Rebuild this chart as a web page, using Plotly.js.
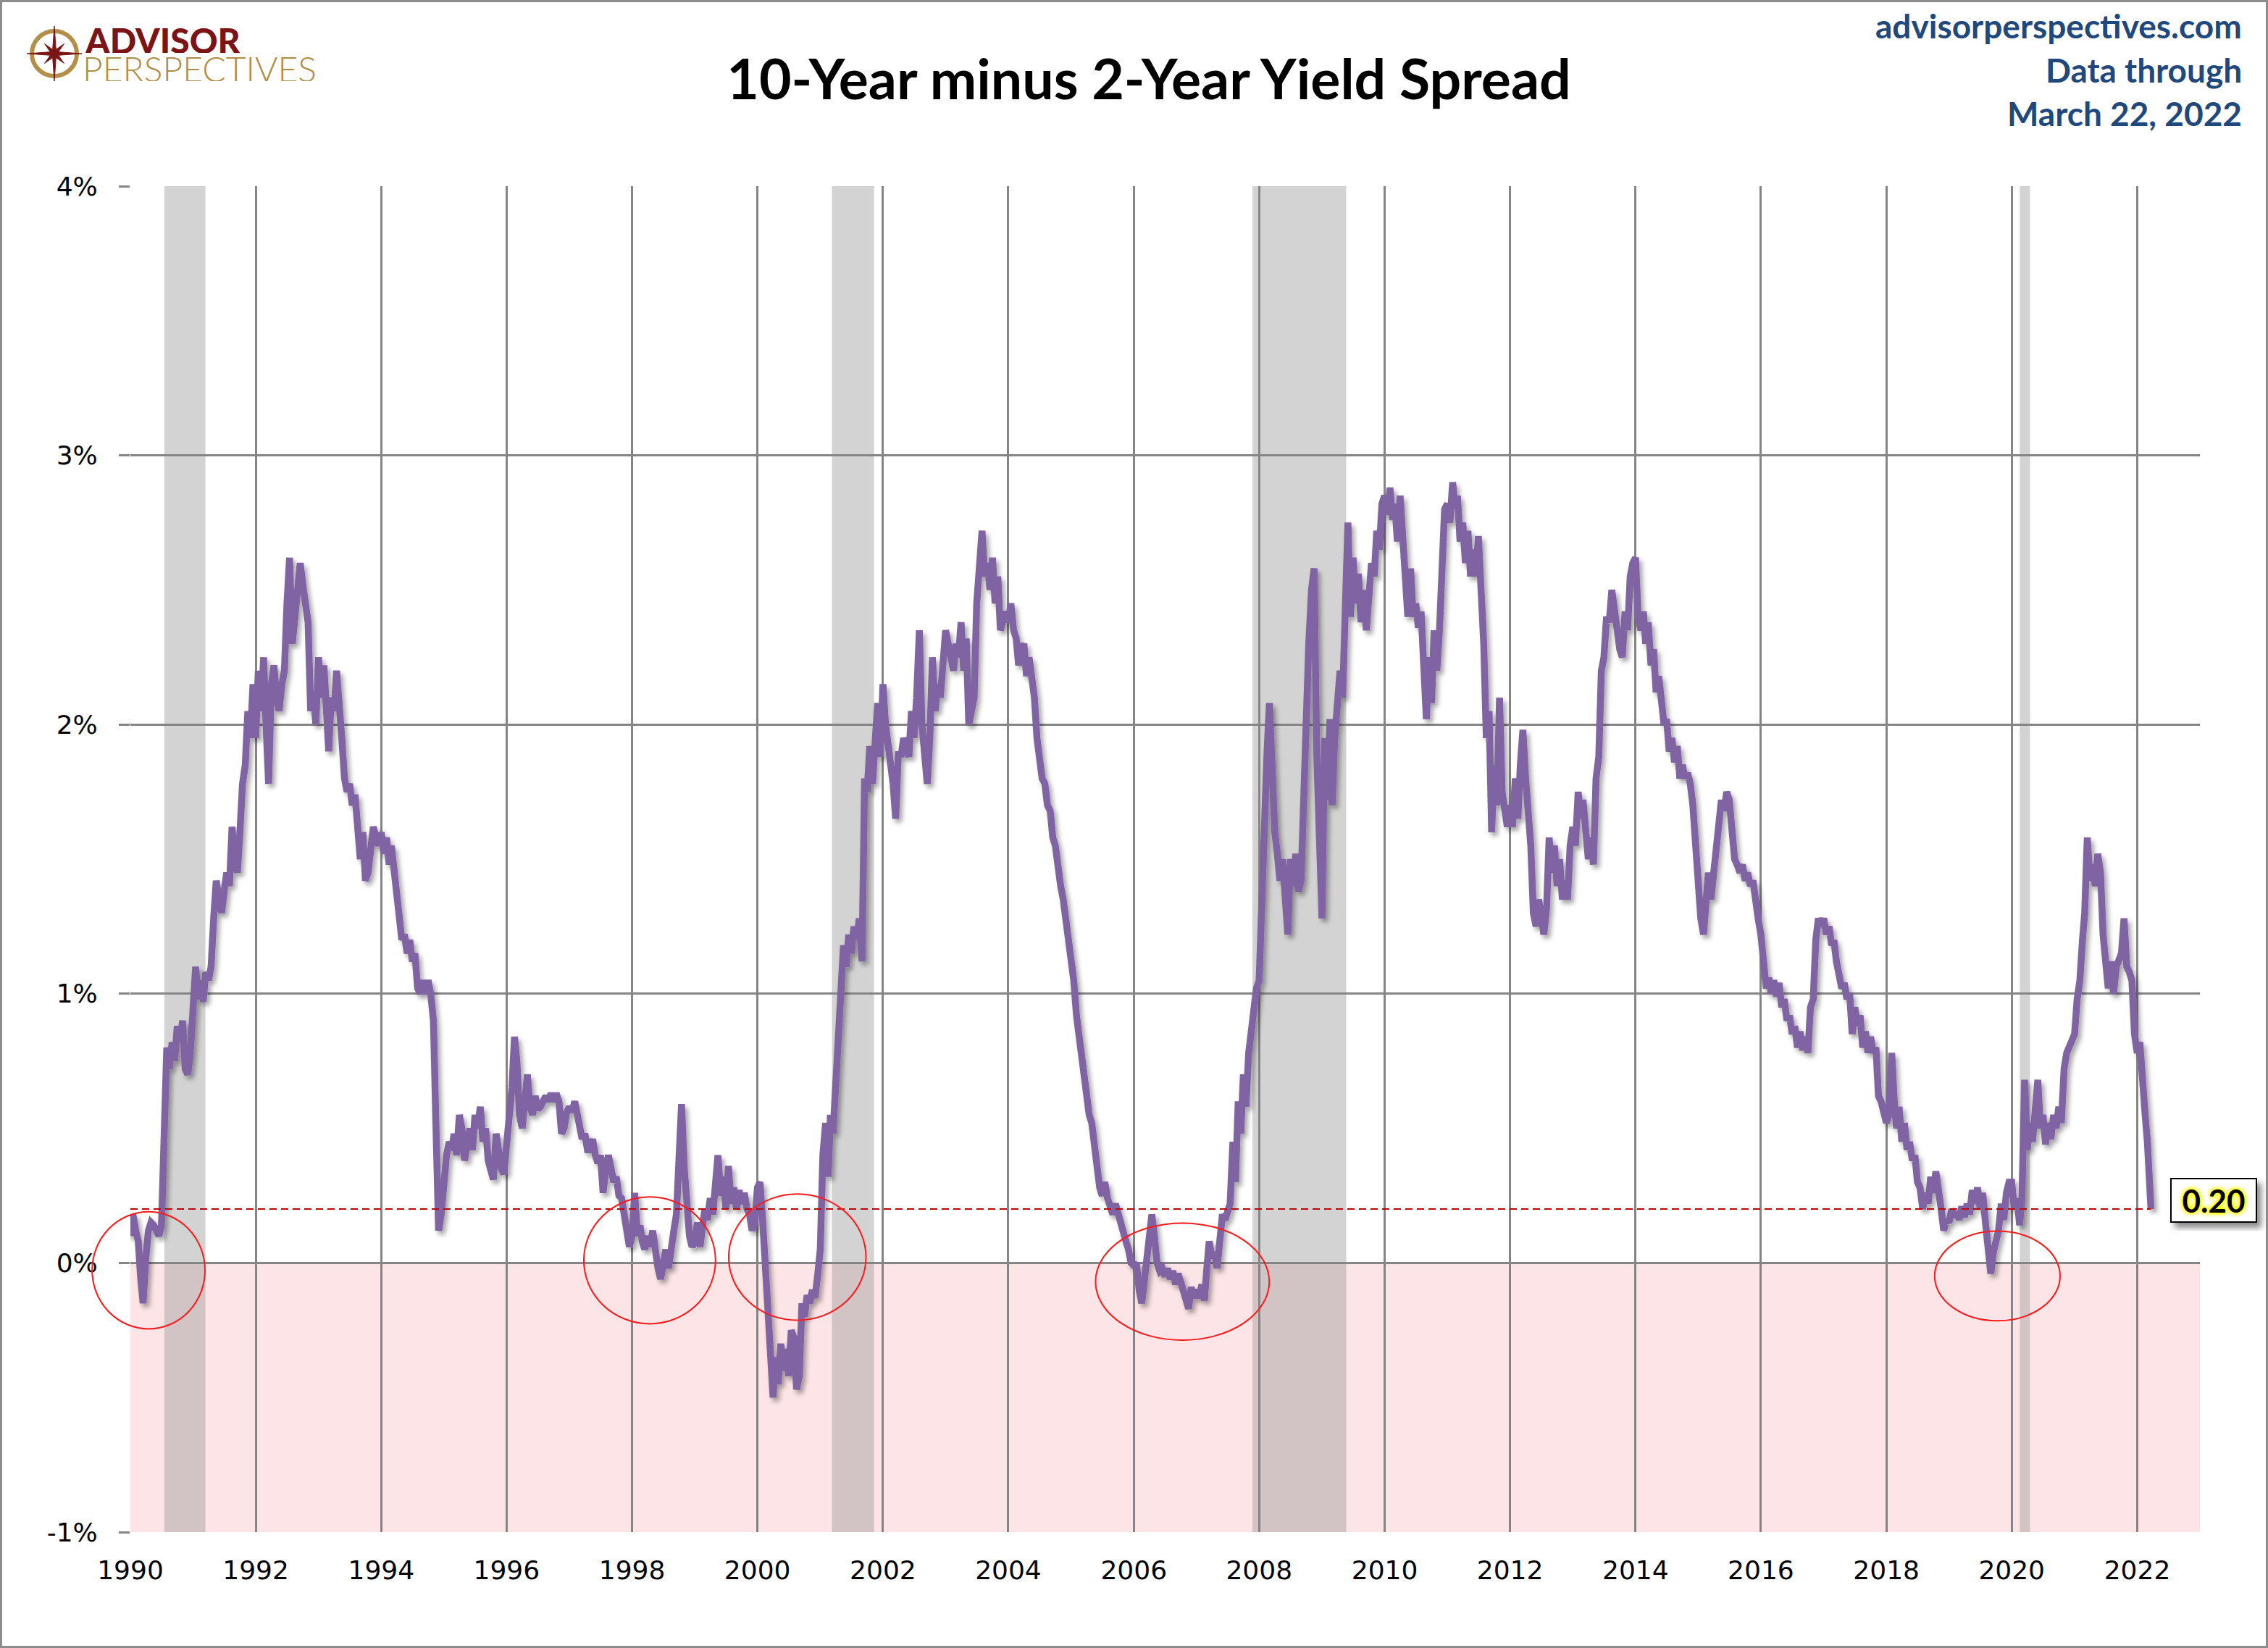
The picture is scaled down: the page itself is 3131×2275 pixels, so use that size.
<!DOCTYPE html>
<html>
<head>
<meta charset="utf-8">
<script src="https://cdn.plot.ly/plotly-3.0.1.min.js"></script>
<style>
  html, body { margin: 0; padding: 0; background: #fff; }
  #chart { width: 3131px; height: 2275px; }
</style>
</head>
<body>
<div id="chart"></div>
<script>
// 10-year minus 2-year Treasury spread (%)
// at the 1st and 16th of each month.
const y1990 = [0.10, 0.18, 0.12, 0.08, -0.05, -0.15, 0.02, 0.12, 0.15, 0.14, 0.12, 0.10, 0.14, 0.40, 0.80, 0.72, 0.82, 0.75, 0.88, 0.82, 0.90, 0.72, 0.70, 0.78];
const y1991 = [0.95, 1.10, 0.98, 1.05, 0.97, 1.08, 1.05, 1.10, 1.28, 1.42, 1.35, 1.30, 1.38, 1.45, 1.40, 1.62, 1.50, 1.45, 1.60, 1.78, 1.85, 2.05, 1.95, 2.15];
const y1992 = [1.95, 2.20, 2.05, 2.25, 2.00, 1.78, 2.15, 2.22, 2.10, 2.05, 2.15, 2.20, 2.45, 2.62, 2.30, 2.40, 2.48, 2.60, 2.52, 2.45, 2.38, 2.05, 2.12, 2.00];
const y1993 = [2.25, 2.10, 2.22, 2.05, 1.90, 2.10, 2.05, 2.20, 2.10, 1.95, 1.80, 1.75, 1.78, 1.70, 1.74, 1.62, 1.50, 1.60, 1.42, 1.45, 1.55, 1.62, 1.58, 1.55];
const y1994 = [1.60, 1.52, 1.58, 1.48, 1.55, 1.45, 1.40, 1.25, 1.20, 1.22, 1.15, 1.20, 1.12, 1.15, 1.02, 1.00, 1.05, 1.00, 1.05, 1.00, 0.90, 0.50, 0.12, 0.18];
const y1995 = [0.30, 0.40, 0.45, 0.42, 0.48, 0.40, 0.55, 0.50, 0.38, 0.45, 0.50, 0.42, 0.55, 0.50, 0.58, 0.45, 0.50, 0.38, 0.35, 0.31, 0.48, 0.40, 0.35, 0.33];
const y1996 = [0.45, 0.58, 0.65, 0.84, 0.75, 0.55, 0.50, 0.60, 0.70, 0.58, 0.55, 0.62, 0.57, 0.58, 0.60, 0.62, 0.60, 0.63, 0.60, 0.63, 0.60, 0.48, 0.50, 0.56];
const y1997 = [0.58, 0.56, 0.60, 0.55, 0.50, 0.46, 0.48, 0.42, 0.42, 0.46, 0.40, 0.37, 0.40, 0.26, 0.35, 0.40, 0.35, 0.30, 0.32, 0.25, 0.24, 0.18, 0.10, 0.06];
const y1998 = [0.10, 0.26, 0.10, 0.14, 0.08, 0.05, 0.10, 0.06, 0.12, 0.04, -0.02, -0.06, 0.00, 0.05, -0.02, 0.07, 0.12, 0.18, 0.35, 0.59, 0.35, 0.22, 0.10, 0.06];
const y1999 = [0.08, 0.15, 0.06, 0.14, 0.20, 0.16, 0.24, 0.18, 0.30, 0.40, 0.25, 0.32, 0.20, 0.36, 0.22, 0.28, 0.20, 0.27, 0.22, 0.26, 0.20, 0.18, 0.12, 0.15];
const y2000 = [0.28, 0.30, 0.15, 0.00, -0.18, -0.30, -0.50, -0.35, -0.45, -0.30, -0.40, -0.32, -0.42, -0.25, -0.28, -0.47, -0.42, -0.15, -0.20, -0.12, -0.15, -0.10, -0.13, -0.05];
const y2001 = [0.05, 0.40, 0.52, 0.32, 0.55, 0.48, 0.68, 0.88, 0.95, 1.18, 1.10, 1.22, 1.15, 1.25, 1.20, 1.28, 1.12, 1.80, 1.75, 1.92, 1.78, 1.95, 2.08, 1.88];
const y2002 = [2.15, 2.00, 1.92, 1.85, 1.78, 1.65, 1.90, 1.88, 1.95, 1.92, 1.88, 2.05, 1.95, 2.10, 2.35, 2.00, 1.90, 1.78, 1.95, 2.25, 2.05, 2.15, 2.10, 2.20];
const y2003 = [2.35, 2.30, 2.25, 2.20, 2.30, 2.25, 2.38, 2.20, 2.32, 2.00, 2.05, 2.10, 2.45, 2.60, 2.72, 2.55, 2.60, 2.50, 2.62, 2.45, 2.55, 2.35, 2.38, 2.42];
const y2004 = [2.38, 2.45, 2.35, 2.32, 2.22, 2.28, 2.30, 2.18, 2.25, 2.18, 2.10, 1.95, 1.88, 1.80, 1.78, 1.70, 1.68, 1.58, 1.55, 1.45, 1.40, 1.35, 1.28, 1.18];
const y2005 = [1.15, 1.05, 0.92, 0.85, 0.75, 0.72, 0.60, 0.55, 0.52, 0.42, 0.32, 0.28, 0.25, 0.30, 0.24, 0.20, 0.18, 0.22, 0.18, 0.15, 0.12, 0.08, 0.05, 0.00];
const y2006 = [-0.01, 0.00, -0.10, -0.15, -0.08, 0.02, 0.08, 0.18, 0.10, 0.00, -0.03, -0.02, -0.05, -0.02, -0.06, -0.03, -0.08, -0.04, -0.07, -0.10, -0.12, -0.17, -0.09, -0.13];
const y2007 = [-0.10, -0.13, -0.08, -0.14, -0.03, 0.08, 0.02, 0.04, -0.02, 0.10, 0.18, 0.16, 0.20, 0.22, 0.45, 0.30, 0.60, 0.48, 0.70, 0.58, 0.78, 0.88, 0.95, 1.02];
const y2008 = [1.05, 1.40, 1.70, 1.90, 2.08, 1.75, 1.60, 1.52, 1.42, 1.50, 1.35, 1.22, 1.50, 1.40, 1.52, 1.38, 1.42, 1.75, 2.00, 2.30, 2.50, 2.58, 1.90, 1.50];
const y2009 = [1.28, 1.95, 1.72, 2.02, 1.70, 1.95, 2.05, 2.20, 2.10, 2.45, 2.75, 2.40, 2.62, 2.45, 2.56, 2.38, 2.50, 2.35, 2.45, 2.60, 2.55, 2.72, 2.65, 2.82];
const y2010 = [2.85, 2.78, 2.88, 2.76, 2.82, 2.68, 2.85, 2.70, 2.55, 2.40, 2.58, 2.40, 2.45, 2.36, 2.42, 2.20, 2.02, 2.25, 2.08, 2.35, 2.20, 2.35, 2.65, 2.80];
const y2011 = [2.82, 2.75, 2.90, 2.80, 2.85, 2.68, 2.75, 2.60, 2.72, 2.55, 2.65, 2.55, 2.70, 2.52, 2.30, 1.95, 2.05, 1.60, 1.85, 1.70, 2.10, 1.75, 1.68, 1.62];
const y2012 = [1.70, 1.62, 1.80, 1.65, 1.85, 1.98, 1.80, 1.70, 1.55, 1.30, 1.25, 1.35, 1.28, 1.22, 1.32, 1.58, 1.45, 1.55, 1.40, 1.50, 1.35, 1.42, 1.35, 1.55];
const y2013 = [1.62, 1.55, 1.75, 1.65, 1.72, 1.62, 1.50, 1.58, 1.48, 1.80, 1.88, 2.20, 2.25, 2.40, 2.38, 2.50, 2.42, 2.35, 2.28, 2.25, 2.42, 2.35, 2.55, 2.60];
const y2014 = [2.62, 2.40, 2.35, 2.42, 2.30, 2.38, 2.22, 2.28, 2.12, 2.18, 2.05, 2.00, 2.02, 1.90, 1.95, 1.86, 1.92, 1.80, 1.85, 1.80, 1.82, 1.78, 1.70, 1.55];
const y2015 = [1.42, 1.28, 1.22, 1.38, 1.45, 1.35, 1.45, 1.55, 1.60, 1.72, 1.68, 1.75, 1.72, 1.62, 1.50, 1.48, 1.45, 1.48, 1.42, 1.45, 1.40, 1.42, 1.32, 1.28];
const y2016 = [1.22, 1.10, 1.02, 1.06, 1.00, 1.05, 0.99, 1.04, 0.95, 0.98, 0.90, 0.92, 0.85, 0.88, 0.80, 0.86, 0.79, 0.84, 0.78, 0.95, 0.98, 1.20, 1.28, 1.25];
const y2017 = [1.28, 1.22, 1.25, 1.18, 1.20, 1.12, 1.08, 1.02, 1.04, 0.98, 1.00, 0.85, 0.95, 0.88, 0.92, 0.80, 0.86, 0.78, 0.84, 0.78, 0.80, 0.62, 0.60, 0.55];
const y2018 = [0.52, 0.55, 0.78, 0.60, 0.50, 0.58, 0.45, 0.52, 0.42, 0.45, 0.38, 0.40, 0.30, 0.28, 0.20, 0.26, 0.22, 0.32, 0.26, 0.34, 0.28, 0.20, 0.12, 0.16];
const y2019 = [0.15, 0.20, 0.17, 0.19, 0.16, 0.21, 0.17, 0.22, 0.18, 0.27, 0.22, 0.28, 0.20, 0.26, 0.15, 0.02, -0.04, 0.04, 0.08, 0.12, 0.22, 0.16, 0.26, 0.30];
const y2020 = [0.30, 0.20, 0.24, 0.14, 0.25, 0.68, 0.42, 0.52, 0.45, 0.55, 0.68, 0.50, 0.55, 0.44, 0.52, 0.46, 0.55, 0.50, 0.58, 0.52, 0.72, 0.78, 0.80, 0.82];
const y2021 = [0.85, 0.98, 1.05, 1.20, 1.30, 1.58, 1.42, 1.48, 1.40, 1.52, 1.45, 1.22, 1.10, 1.02, 1.12, 1.00, 1.10, 1.12, 1.15, 1.28, 1.10, 1.08, 1.05, 0.85];
const y2022 = [0.78, 0.82, 0.62, 0.55, 0.45, 0.28];

const firstYear = 1990;
const spreadByYear = [y1990, y1991, y1992, y1993, y1994, y1995, y1996, y1997, y1998, y1999,
  y2000, y2001, y2002, y2003, y2004, y2005, y2006, y2007, y2008, y2009, y2010,
  y2011, y2012, y2013, y2014, y2015, y2016, y2017, y2018, y2019, y2020, y2021, y2022];

const lastDate = '2022-03-22';
const lastValue = 0.20;

// NBER recessions as shaded on the chart
const recessionStart = ['1990-07-18', '2001-03-10', '2007-11-23', '2020-02-17'];
const recessionEnd = ['1991-03-14', '2001-11-10', '2009-05-22', '2020-04-16'];

const yTickVals = [-1, 0, 1, 2, 3, 4];
const yTickText = ['-1%', '0%', '1%', '2%', '3%', '4%'];

// ---- build the series ----
const pad = n => (n < 10 ? '0' : '') + n;
const dates = [];
const values = [];
spreadByYear.forEach((arr, k) => {
  arr.forEach((v, i) => {
    const month = Math.floor(i / 2) + 1;
    const day = i % 2 ? 16 : 1;
    dates.push((firstYear + k) + '-' + pad(month) + '-' + pad(day));
    values.push(v);
  });
});
dates.push(lastDate);
values.push(lastValue);

// ---- geometry helpers (figure pixels -> paper units) ----
const W = 3131, H = 2275;
const M = { l: 180, r: 94, t: 257, b: 160 };
const plotW = W - M.l - M.r;
const plotH = H - M.t - M.b;
const px = x => (x - M.l) / plotW;
const py = y => (H - M.b - y) / plotH;
const xRange = [1990, 2023];
const yRange = [-1, 4];
const yearToPaper = yr => (yr - xRange[0]) / (xRange[1] - xRange[0]);
const valToPaper = v => (v - yRange[0]) / (yRange[1] - yRange[0]);

const gridColor = '#858585';
const purple = '#8064A2';

const trace = {
  x: dates,
  y: values,
  type: 'scatter',
  mode: 'lines',
  line: { color: purple, width: 9.5 },
  hoverinfo: 'skip',
  showlegend: false
};

const shapes = [];

// negative-spread zone
shapes.push({
  type: 'rect', xref: 'paper', yref: 'y', x0: 0, x1: 1, y0: -1, y1: 0,
  fillcolor: '#FDE4E6', line: { width: 0 }, layer: 'below'
});

// recession bars
recessionStart.forEach((s, i) => {
  shapes.push({
    type: 'rect', xref: 'x', yref: 'paper', x0: s, x1: recessionEnd[i], y0: 0, y1: 1,
    fillcolor: 'rgba(150,150,150,0.42)', line: { width: 0 }, layer: 'below'
  });
});

// latest value reference line
shapes.push({
  type: 'line', xref: 'x', yref: 'y', x0: dates[0], x1: lastDate, y0: lastValue, y1: lastValue,
  line: { color: '#C00000', width: 2, dash: '10px,6px' }, layer: 'above'
});

// red circles around the near-inversions
const highlights = [
  [1989.39, 1991.19, -0.245, 0.19],
  [1997.23, 1999.33, -0.226, 0.245],
  [1999.54, 2001.73, -0.213, 0.256],
  [2005.39, 2008.16, -0.287, 0.148],
  [2018.77, 2020.77, -0.215, 0.118]
];
highlights.forEach(h => {
  shapes.push({
    type: 'circle', xref: 'paper', yref: 'paper',
    x0: yearToPaper(h[0]), x1: yearToPaper(h[1]), y0: valToPaper(h[2]), y1: valToPaper(h[3]),
    line: { color: '#FF1A1A', width: 2 }, layer: 'above'
  });
});

// logo: ring + compass star
const cx = 75, cy = 74;
shapes.push({
  type: 'circle', xref: 'paper', yref: 'paper',
  x0: px(cx - 31), x1: px(cx + 31), y0: py(cy + 31), y1: py(cy - 31),
  line: { color: '#B38F4A', width: 6 }, layer: 'above'
});
let star = '';
for (let k = 0; k < 16; k++) {
  const ang = k * Math.PI / 8 - Math.PI / 2;
  const r = k % 2 ? 6 : (k % 4 === 0 ? 38 : 19);
  const sx = cx + r * Math.cos(ang), sy = cy + r * Math.sin(ang);
  star += (k ? ' L ' : 'M ') + px(sx).toFixed(5) + ',' + py(sy).toFixed(5);
}
star += ' Z';
shapes.push({
  type: 'path', xref: 'paper', yref: 'paper', path: star,
  fillcolor: '#7B1416', line: { color: '#7B1416', width: 1 }, layer: 'above'
});

// frame around the whole picture
shapes.push({
  type: 'rect', xref: 'paper', yref: 'paper',
  x0: px(1.5), x1: px(W - 1.5), y0: py(H - 1.5), y1: py(1.5),
  line: { color: '#8C8C8C', width: 3 }, layer: 'above'
});

const navy = '#1F497D';
const annotations = [
  { text: 'ADVISOR', x: px(115), y: py(55), xref: 'paper', yref: 'paper', xanchor: 'left', yanchor: 'middle',
    height: 36, showarrow: false, font: { family: 'Lato', size: 48, color: '#7B1416', weight: 900 } },
  { text: 'PERSPECTIVES', x: px(112), y: py(94), xref: 'paper', yref: 'paper', xanchor: 'left', yanchor: 'middle',
    height: 36, showarrow: false, font: { family: 'Lato', size: 48, color: '#B08D45', weight: 300 } },
  { text: 'advisorperspectives.com', x: px(3097), y: py(35), xref: 'paper', yref: 'paper', xanchor: 'right', yanchor: 'middle',
    showarrow: false, font: { family: 'Lato', size: 46, color: navy, weight: 700 } },
  { text: 'Data through', x: px(3097), y: py(96), xref: 'paper', yref: 'paper', xanchor: 'right', yanchor: 'middle',
    showarrow: false, font: { family: 'Lato', size: 46, color: navy, weight: 700 } },
  { text: 'March 22, 2022', x: px(3097), y: py(157), xref: 'paper', yref: 'paper', xanchor: 'right', yanchor: 'middle',
    showarrow: false, font: { family: 'Lato', size: 46, color: navy, weight: 700 } },
  { text: lastValue.toFixed(2), x: px(3056), y: lastValue, xref: 'paper', yref: 'y', yshift: 12,
    xanchor: 'center', yanchor: 'middle', showarrow: false,
    width: 112, height: 54, bgcolor: '#FFFFFF', bordercolor: '#000000', borderwidth: 2, borderpad: 2,
    font: { family: 'Lato', size: 44, color: '#000000', weight: 700,
            shadow: '0 0 4px #FFFF00, 0 0 4px #FFFF00, 0 0 6px #FFFF00, 0 0 8px #FFFF00' } }
];

const tickFont = { family: 'DejaVu Sans', size: 36, color: '#000000' };

const layout = {
  width: W,
  height: H,
  margin: M,
  paper_bgcolor: '#FFFFFF',
  plot_bgcolor: 'rgba(0,0,0,0)',
  showlegend: false,
  hovermode: false,
  title: {
    text: '10-Year minus 2-Year Yield Spread',
    x: 1586 / W, xref: 'container', xanchor: 'center',
    y: 1 - 110 / H, yref: 'container', yanchor: 'middle',
    font: { family: 'Lato', size: 77, color: '#000000', weight: 700 }
  },
  xaxis: {
    type: 'date',
    range: ['1990-01-01', '2023-01-01'],
    tick0: '1990-01-01',
    dtick: 'M24',
    tickformat: '%Y',
    showgrid: true,
    gridcolor: gridColor,
    gridwidth: 3,
    zeroline: false,
    showline: false,
    ticks: '',
    ticklabelstandoff: 28,
    tickfont: tickFont,
    fixedrange: true
  },
  yaxis: {
    range: yRange,
    tickvals: yTickVals,
    ticktext: yTickText,
    showgrid: true,
    gridcolor: gridColor,
    gridwidth: 3,
    zeroline: false,
    showline: false,
    ticks: 'outside',
    ticklen: 15,
    tickwidth: 3,
    tickcolor: gridColor,
    ticklabelstandoff: 22,
    tickfont: tickFont,
    fixedrange: true
  },
  shapes: shapes,
  annotations: annotations
};

Plotly.newPlot('chart', [trace], layout, { staticPlot: true, displayModeBar: false }).then(gd => {
  // soft drop shadow like the original spreadsheet chart
  const svg = gd.querySelector('.main-svg');
  const NS = 'http://www.w3.org/2000/svg';
  let defs = svg.querySelector('defs');
  if (!defs) { defs = document.createElementNS(NS, 'defs'); svg.insertBefore(defs, svg.firstChild); }
  const mk = (id, dx, dy, sd, op) => {
    const f = document.createElementNS(NS, 'filter');
    f.setAttribute('id', id);
    f.setAttribute('x', '-10%'); f.setAttribute('y', '-10%');
    f.setAttribute('width', '130%'); f.setAttribute('height', '130%');
    const d = document.createElementNS(NS, 'feDropShadow');
    d.setAttribute('dx', dx); d.setAttribute('dy', dy);
    d.setAttribute('stdDeviation', sd);
    d.setAttribute('flood-color', '#000'); d.setAttribute('flood-opacity', op);
    f.appendChild(d);
    defs.appendChild(f);
  };
  mk('lineShadow', 4, 5, 3, 0.35);
  mk('boxShadow', 6, 7, 4, 0.45);
  gd.querySelectorAll('.scatterlayer .js-line').forEach(p => p.setAttribute('filter', 'url(#lineShadow)'));
  gd.querySelectorAll('.annotation').forEach(a => {
    const t = a.querySelector('text');
    if (t && t.textContent === lastValue.toFixed(2)) {
      const bg = a.querySelector('rect.bg');
      if (bg) bg.setAttribute('filter', 'url(#boxShadow)');
      t.style.textShadow = '0 0 4px #FFFF00, 0 0 4px #FFFF00, 0 0 6px #FFFF00, 0 0 8px #FFFF00';
    }
  });
});
</script>
</body>
</html>
